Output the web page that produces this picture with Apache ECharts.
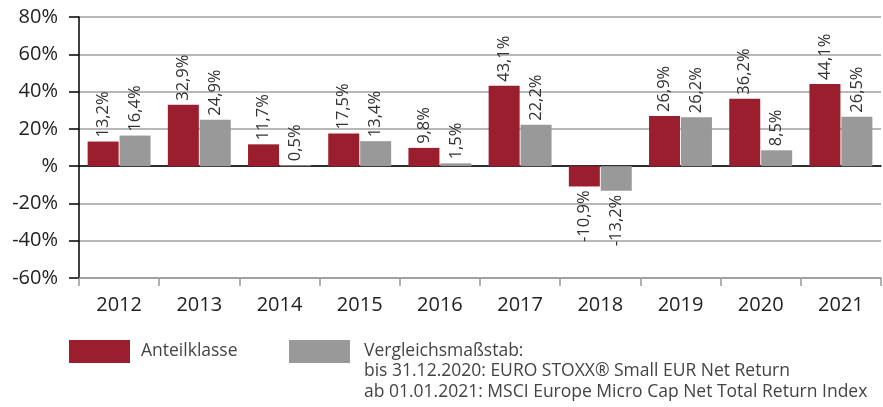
<!DOCTYPE html>
<html><head><meta charset="utf-8">
<script src="https://cdn.jsdelivr.net/npm/echarts@6/dist/echarts.min.js"></script>
<style>html,body{margin:0;padding:0;background:#fff}#c{width:883px;height:407px}</style>
</head><body><div id="c"></div>
<script>
const categories = ['2012','2013','2014','2015','2016','2017','2018','2019','2020','2021'];
const fundValues = [13.2, 32.9, 11.7, 17.5, 9.8, 43.1, -10.9, 26.9, 36.2, 44.1];
const benchValues = [16.4, 24.9, 0.5, 13.4, 1.5, 22.2, -13.2, 26.2, 8.5, 26.5];
const yTicks = {min: -60, max: 80, interval: 20};
const fundName = 'Anteilklasse';
const benchName = 'Vergleichsmaßstab:';
const benchExtra = ['bis 31.12.2020: EURO STOXX® Small EUR Net Return', 'ab 01.01.2021: MSCI Europe Micro Cap Net Total Return Index'];

const axisFont = '"Open Sans", sans-serif';
const legendFont = '"Open Sans", sans-serif';

function fmt(v){ return String(v.toFixed(1)).replace('.', ',') + '%'; }
function mkData(arr){
  return arr.map(v => ({
    value: v,
    label: v >= 0
      ? {position: 'top', align: 'left', verticalAlign: 'middle'}
      : {position: 'bottom', align: 'right', verticalAlign: 'middle'}
  }));
}
const labelBase = {
  show: true, rotate: 90, distance: 4, color: '#333', fontSize: 16.5,
  fontFamily: axisFont, formatter: p => fmt(p.value)
};

const chart = echarts.init(document.getElementById('c'), null, {renderer: 'canvas'});
chart.setOption({
  animation: false,
  grid: {left: 79, right: 2, top: 17, bottom: 129, containLabel: false},
  legend: [{
    data: [fundName], left: 69, top: 340, padding: 0, itemWidth: 61, itemHeight: 23,
    icon: 'rect', selectedMode: false,
    textStyle: {fontFamily: legendFont, fontSize: 17.5, color: '#444', padding: [0,0,0,6]}
  },{
    data: [benchName], left: 289, top: 340, padding: 0, itemWidth: 61, itemHeight: 23,
    icon: 'rect', selectedMode: false,
    textStyle: {fontFamily: legendFont, fontSize: 17.5, color: '#444', padding: [0,0,0,9]}
  }],
  graphic: [{
    type: 'text', left: 364, top: 361,
    style: {text: benchExtra.join('\n'), font: '17.5px ' + legendFont, fill: '#444', lineHeight: 21}
  }],
  xAxis: [{
    type: 'category', data: categories, position: 'bottom',
    axisLine: {onZero: false, lineStyle: {color: '#999', width: 1.5}},
    axisTick: {show: true, length: 8, lineStyle: {color: '#999', width: 1.5}},
    axisLabel: {color: '#222', fontSize: 20, fontFamily: axisFont, margin: 17}
  },{
    type: 'category', data: categories, position: 'bottom',
    axisLine: {onZero: true, lineStyle: {color: '#000', width: 1.5}},
    axisTick: {show: false}, axisLabel: {show: false}
  }],
  yAxis: {
    type: 'value', min: yTicks.min, max: yTicks.max, interval: yTicks.interval,
    axisLine: {show: true, lineStyle: {color: '#000', width: 1.5}},
    axisTick: {show: true, length: 10, lineStyle: {color: '#000', width: 1.5}},
    splitLine: {show: true, lineStyle: {color: '#a0a0a0', width: 1.5}},
    axisLabel: {color: '#222', fontSize: 20, fontFamily: axisFont, margin: 21,
      formatter: v => (v === 0 ? '' : v) + '%'}
  },
  series: [{
    name: fundName, type: 'bar', xAxisIndex: 0, data: mkData(fundValues),
    barWidth: 31, barGap: '3%',
    itemStyle: {color: '#9B1E2F'}, label: labelBase, z: 3
  },{
    name: benchName, type: 'bar', xAxisIndex: 0, data: mkData(benchValues),
    barWidth: 31,
    itemStyle: {color: '#999999'}, label: labelBase, z: 3
  }]
});
</script></body></html>
